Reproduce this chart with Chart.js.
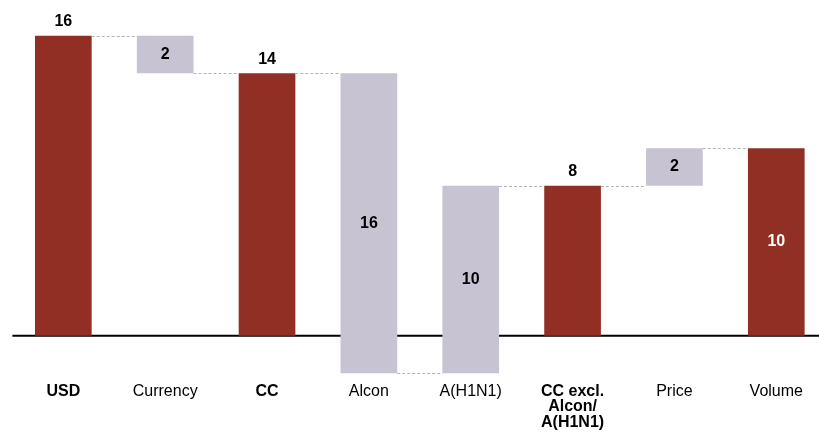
<!DOCTYPE html>
<html>
<head>
<meta charset="utf-8">
<script src="https://cdn.jsdelivr.net/npm/chart.js@4/dist/chart.umd.min.js"></script>
<style>
  html, body { margin: 0; padding: 0; background: #fff; overflow: hidden; }
  #wrap { width: 828px; height: 437px; position: relative; }
</style>
</head>
<body>
<div id="wrap"><canvas id="c"></canvas></div>
<script>
const categories = ['USD', 'Currency', 'CC', 'Alcon', 'A(H1N1)', ['CC excl.', 'Alcon/', 'A(H1N1)'], 'Price', 'Volume'];
const values = [16, -2, 14, -16, 10, 8, 2, 10];
const kinds = ['total', 'delta', 'total', 'delta', 'delta', 'total', 'delta', 'total'];

// Build floating ranges from the values
const ranges = [];
const levels = [];
let level = 0;
values.forEach((v, i) => {
  if (kinds[i] === 'total') {
    ranges.push([0, v]);
    level = v;
  } else {
    ranges.push([level, level + v]);
    level = level + v;
  }
  levels.push(level);
});

const RED = '#922F24';
const LILAC = '#C8C3D2';
const FONT = '"Liberation Sans", Arial, Helvetica, sans-serif';

const labelPlacement = ['above', 'inside', 'above', 'inside', 'inside', 'above', 'inside', 'inside'];
const labelColor = ['#000', '#000', '#000', '#000', '#000', '#000', '#000', '#fff'];

const waterfallPlugin = {
  id: 'waterfall',
  beforeDatasetsDraw(chart) {
    const { ctx, chartArea, scales } = chart;
    const y0 = scales.y.getPixelForValue(0);
    ctx.save();
    ctx.strokeStyle = '#000';
    ctx.lineWidth = 2;
    ctx.beginPath();
    ctx.moveTo(chartArea.left, y0);
    ctx.lineTo(chartArea.right, y0);
    ctx.stroke();
    ctx.restore();
  },
  afterDatasetsDraw(chart) {
    const { ctx, scales } = chart;
    const meta = chart.getDatasetMeta(0);
    ctx.save();
    // connectors
    ctx.strokeStyle = '#B4B4B4';
    ctx.lineWidth = 1;
    ctx.setLineDash([3, 2]);
    for (let i = 0; i < meta.data.length - 1; i++) {
      const a = meta.data[i], b = meta.data[i + 1];
      const y = Math.round(scales.y.getPixelForValue(levels[i])) + 0.5;
      ctx.beginPath();
      ctx.moveTo(a.x + a.width / 2, y);
      ctx.lineTo(b.x - b.width / 2, y);
      ctx.stroke();
    }
    ctx.setLineDash([]);
    // value labels
    ctx.font = 'bold 16px ' + FONT;
    ctx.textAlign = 'center';
    ctx.textBaseline = 'middle';
    meta.data.forEach((bar, i) => {
      const r = ranges[i];
      const top = scales.y.getPixelForValue(Math.max(r[0], r[1]));
      const bot = scales.y.getPixelForValue(Math.min(r[0], r[1]));
      const y = labelPlacement[i] === 'above' ? top - 14 : (top + bot) / 2;
      ctx.fillStyle = labelColor[i];
      ctx.fillText(String(Math.abs(values[i])), bar.x, y);
    });
    ctx.restore();
  }
};

new Chart(document.getElementById('c'), {
  type: 'bar',
  data: {
    labels: categories,
    datasets: [{
      data: ranges,
      backgroundColor: kinds.map(k => k === 'total' ? RED : LILAC),
      borderWidth: 0,
      categoryPercentage: 1,
      barPercentage: 0.5566
    }]
  },
  options: {
    responsive: true,
    maintainAspectRatio: false,
    devicePixelRatio: 1,
    animation: false,
    layout: { padding: { left: 12.4, right: 0.8, top: 0, bottom: 0 } },
    plugins: { legend: { display: false }, tooltip: { enabled: false } },
    scales: {
      x: {
        grid: { display: false, drawTicks: false },
        border: { display: false },
        ticks: {
          padding: 6.5,
          color: '#000',
          autoSkip: false,
          maxRotation: 0,
          font: (c) => ({
            family: FONT,
            size: 16,
            lineHeight: 0.98,
            weight: (kinds[c.index] === 'total' && c.index !== 7) ? 'bold' : 'normal'
          })
        }
      },
      y: {
        display: false,
        min: -2.2,
        max: 17.9
      }
    }
  },
  plugins: [waterfallPlugin]
});
</script>
</body>
</html>
